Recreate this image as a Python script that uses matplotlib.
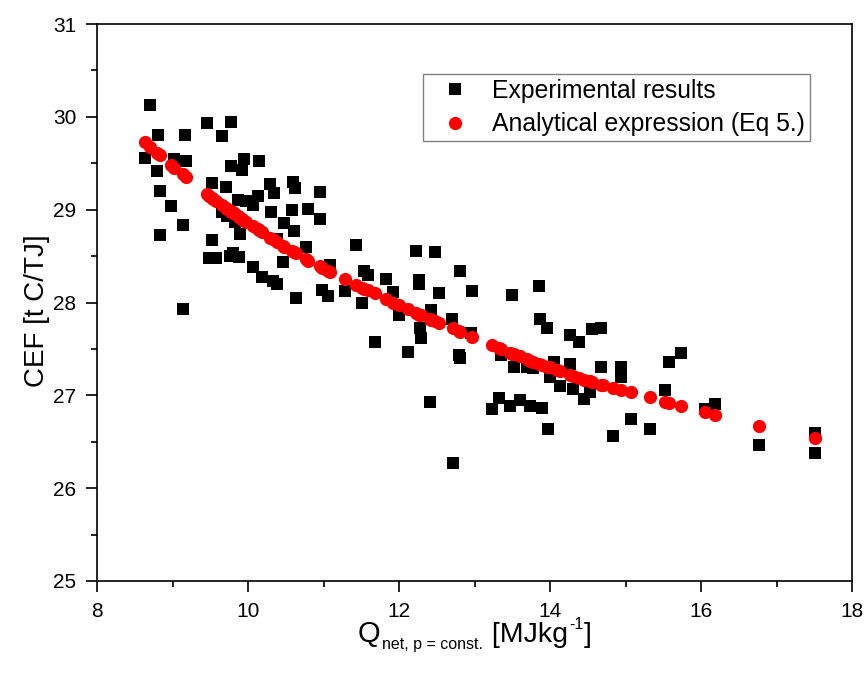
import matplotlib
matplotlib.use("Agg")
import matplotlib.pyplot as plt
from matplotlib.ticker import MultipleLocator

plt.rcParams['font.family'] = ['Liberation Sans', 'DejaVu Sans']

# Experimental results
exp_x = [8.63, 8.70, 8.80, 8.81, 8.83, 8.83, 8.98, 9.02, 9.14, 9.14, 9.17, 9.18,
         9.46, 9.52, 9.52, 9.49, 9.58, 9.65, 9.65, 9.71, 9.72, 9.76, 9.78, 9.78, 9.80,
         9.83, 9.87, 9.88, 9.90, 9.92, 9.95, 9.97, 10.07, 10.07, 10.13, 10.14, 10.18,
         10.29, 10.30, 10.33, 10.34, 10.38, 10.39, 10.47, 10.48, 10.58, 10.59, 10.61,
         10.62, 10.64, 10.77, 10.80, 10.95, 10.95, 10.98, 11.06, 11.08, 11.28, 11.43,
         11.51, 11.53, 11.59, 11.68, 11.83, 11.92, 12.00, 12.12, 12.23, 12.26, 12.27,
         12.28, 12.29, 12.41, 12.43, 12.48, 12.53, 12.70, 12.72, 12.79, 12.81, 12.81,
         12.96, 12.97, 13.23, 13.32, 13.35, 13.47, 13.50, 13.52, 13.60, 13.69, 13.74,
         13.78, 13.85, 13.87, 13.89, 13.96, 13.97, 14.00, 14.05, 14.13, 14.26, 14.27,
         14.31, 14.38, 14.45, 14.53, 14.55, 14.68, 14.68, 14.84, 14.94, 14.94, 15.07,
         15.32, 15.52, 15.58, 15.74, 16.05, 16.18, 16.77, 17.51, 17.51]
exp_y = [29.56, 30.13, 29.42, 29.80, 29.20, 28.73, 29.04, 29.55, 28.84, 27.93, 29.80, 29.52,
         29.93, 29.29, 28.67, 28.48, 28.48, 29.79, 28.97, 29.24, 28.93, 28.50, 29.94, 29.47, 28.53,
         28.87, 29.10, 28.49, 28.74, 29.43, 29.55, 29.09, 29.05, 28.38, 29.15, 29.52, 28.27,
         29.28, 28.98, 28.23, 29.18, 28.20, 28.68, 28.44, 28.86, 29.00, 29.30, 28.77,
         29.23, 28.05, 28.60, 29.01, 29.19, 28.90, 28.14, 28.07, 28.40, 28.12, 28.62,
         28.00, 28.34, 28.30, 27.57, 28.25, 28.11, 27.86, 27.47, 28.55, 28.24, 28.20,
         27.72, 27.62, 26.93, 27.92, 28.54, 28.10, 27.82, 26.27, 27.43, 27.40, 28.34,
         27.67, 28.12, 26.85, 26.97, 27.43, 26.89, 28.08, 27.31, 26.95, 27.31, 26.88,
         27.29, 28.18, 27.82, 26.86, 27.73, 26.64, 27.20, 27.36, 27.10, 27.65, 27.34,
         27.07, 27.57, 26.96, 27.04, 27.71, 27.72, 27.31, 26.56, 27.31, 27.20, 26.75,
         26.64, 27.06, 27.36, 27.46, 26.85, 26.91, 26.47, 26.59, 26.38]

# Analytical expression (Eq 5.)
ana_x = [8.63, 8.70, 8.80, 8.83, 8.98, 9.02, 9.14, 9.18,
         9.46, 9.49, 9.52, 9.53, 9.58, 9.65, 9.71, 9.72, 9.76, 9.78, 9.80, 9.83, 9.87,
         9.88, 9.90, 9.92, 9.95, 9.97, 10.07, 10.13, 10.14, 10.18, 10.29, 10.33, 10.38,
         10.47, 10.48, 10.58, 10.61, 10.64, 10.77, 10.80, 10.95, 10.98, 11.06, 11.08,
         11.28, 11.43, 11.51, 11.53, 11.59, 11.68, 11.83, 11.92, 12.00, 12.12, 12.23,
         12.27, 12.29, 12.41, 12.43, 12.48, 12.53, 12.71, 12.79, 12.81, 12.97,
         13.23, 13.32, 13.35, 13.47, 13.50, 13.52, 13.60, 13.69, 13.74, 13.78, 13.85,
         13.89, 13.96, 14.00, 14.09, 14.13, 14.26, 14.31, 14.38, 14.45, 14.53, 14.55,
         14.68, 14.70, 14.84, 14.94, 15.07, 15.32, 15.52, 15.58, 15.74, 16.05, 16.18,
         16.77, 17.51]
ana_y = [29.73, 29.68, 29.61, 29.59, 29.48, 29.45, 29.38, 29.35,
         29.17, 29.15, 29.13, 29.12, 29.09, 29.05, 29.02, 29.01, 28.99, 28.98, 28.97, 28.95, 28.93,
         28.92, 28.91, 28.90, 28.88, 28.87, 28.82, 28.79, 28.78, 28.76, 28.70, 28.68, 28.65,
         28.61, 28.60, 28.55, 28.54, 28.53, 28.47, 28.45, 28.39, 28.37, 28.34, 28.33,
         28.25, 28.19, 28.16, 28.15, 28.13, 28.10, 28.04, 28.00, 27.97, 27.93, 27.89,
         27.87, 27.86, 27.82, 27.81, 27.80, 27.78, 27.72, 27.69, 27.68, 27.63,
         27.54, 27.51, 27.50, 27.46, 27.45, 27.44, 27.42, 27.39, 27.37, 27.36, 27.34,
         27.33, 27.31, 27.30, 27.27, 27.26, 27.22, 27.21, 27.19, 27.17, 27.15, 27.14,
         27.11, 27.11, 27.08, 27.06, 27.04, 26.98, 26.93, 26.92, 26.88, 26.82, 26.79,
         26.67, 26.54]

W, H = 865, 681
fig = plt.figure(figsize=(W / 100, H / 100), dpi=100)
ax = fig.add_axes([97 / W, 100 / H, 755 / W, 557 / H])

ax.plot(exp_x, exp_y, linestyle='none', marker='s', markersize=8.2,
        color='black', markeredgewidth=0, label='Experimental results', zorder=3)
ax.plot(ana_x, ana_y, linestyle='none', marker='o', markersize=9.5,
        color='#ff0000', markeredgewidth=0, label='Analytical expression (Eq 5.)', zorder=4)

ax.set_xlim(8, 18)
ax.set_ylim(25, 31)
ax.xaxis.set_major_locator(MultipleLocator(2))
ax.xaxis.set_minor_locator(MultipleLocator(1))
ax.yaxis.set_major_locator(MultipleLocator(1))
ax.yaxis.set_minor_locator(MultipleLocator(0.5))
ax.tick_params(which='both', direction='out', top=False, right=False, width=1.2,
               labelsize=15, pad=7)
ax.tick_params(which='major', length=8)
ax.tick_params(which='minor', length=4.5)
for s in ax.spines.values():
    s.set_linewidth(1.2)

ax.set_ylabel('CEF [t C/TJ]', fontsize=20)
ax.yaxis.set_label_coords(-0.062, 0.485)

leg = ax.legend(loc='upper left', bbox_to_anchor=(0.432, 0.910), fontsize=17.8,
                frameon=True, fancybox=False, edgecolor='#808080', framealpha=1,
                handlelength=2.2, handletextpad=0.4, borderpad=0.2,
                labelspacing=0.38, borderaxespad=0)
leg.get_frame().set_linewidth(1.0)

# x label built from pieces (main text, small subscript, small superscript)
renderer = fig.canvas.get_renderer()
base_y = 1 - 642 / H
x0 = 362 / W

def place(txt, x, y, size):
    t = fig.text(x, y, txt, fontsize=size, ha='left', va='baseline')
    bb = t.get_window_extent(renderer=renderer)
    return t, bb.x1 / W

t1, xe = place('Q', x0, base_y, 21)
t2, xe = place('net, p = const.', xe + 1 / W, base_y - 7 / H, 11.5)
t3, xe = place(' [MJkg', xe + 1 / W, base_y, 20.5)
t4, xe = place('-1', xe + 1 / W, base_y + 13 / H, 11.5)
t5, xe = place(']', xe + 1 / W, base_y, 20.5)
total = xe - x0
shift = (475 / W) - (x0 + total / 2)
for t in (t1, t2, t3, t4, t5):
    px, py = t.get_position()
    t.set_position((px + shift, py))

fig.savefig('out.png', dpi=100, facecolor='white')
